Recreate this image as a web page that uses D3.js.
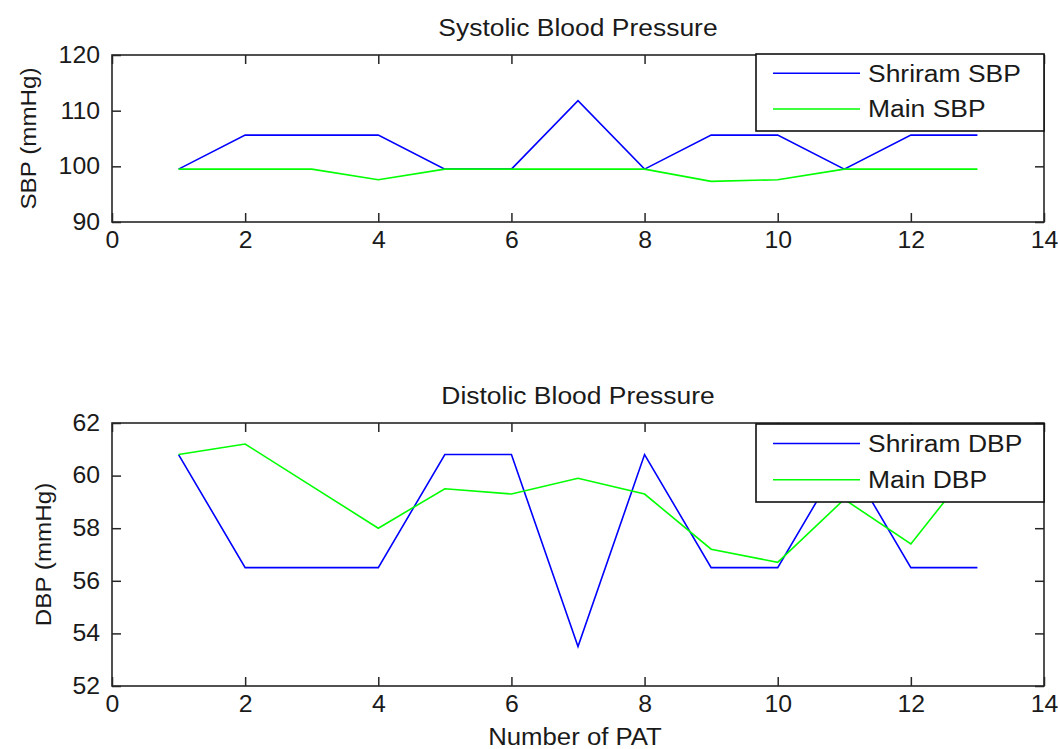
<!DOCTYPE html>
<html>
<head>
<meta charset="utf-8">
<script src="https://cdn.jsdelivr.net/npm/d3@7/dist/d3.min.js"></script>
<style>
  html, body { margin: 0; padding: 0; background: #fff; }
  svg { display: block; }
  text { font-family: "Liberation Sans", Arial, sans-serif; fill: #1a1a1a; }
</style>
</head>
<body>
<svg id="chart" width="1058" height="749"></svg>
<script>
// ---------- data ----------
const patNumbers = [1, 2, 3, 4, 5, 6, 7, 8, 9, 10, 11, 12, 13];
const shriramSBP = [99.5, 105.6, 105.6, 105.6, 99.5, 99.5, 111.8, 99.5, 105.6, 105.6, 99.5, 105.6, 105.6];
const mainSBP    = [99.5, 99.5, 99.5, 97.6, 99.5, 99.5, 99.5, 99.5, 97.3, 97.6, 99.5, 99.5, 99.5];
const shriramDBP = [60.8, 56.5, 56.5, 56.5, 60.8, 60.8, 53.5, 60.8, 56.5, 56.5, 60.8, 56.5, 56.5];
const mainDBP    = [60.8, 61.2, 59.6, 58.0, 59.5, 59.3, 59.9, 59.3, 57.2, 56.7, 59.1, 57.4, 60.6];
const xTicks   = [0, 2, 4, 6, 8, 10, 12, 14];
const sbpTicks = [90, 100, 110, 120];
const dbpTicks = [52, 54, 56, 58, 60, 62];
const seriesNamesTop = ["Shriram SBP", "Main SBP"];
const seriesNamesBottom = ["Shriram DBP", "Main DBP"];
const titles = ["Systolic Blood Pressure", "Distolic Blood Pressure"];
const yLabels = ["SBP (mmHg)", "DBP (mmHg)"];
const xLabel = "Number of PAT";
const colors = ["#0000ff", "#00ff00"];

// ---------- layout ----------
const svg = d3.select("#chart");
const left = 112, right = 1044;
const panels = [
  { top: 55, bottom: 222, domain: [90, 120], ticks: sbpTicks, series: [shriramSBP, mainSBP], names: seriesNamesTop,
    title: titles[0], ylab: yLabels[0], ylabX: 28, legend: { y0: 54, y1: 131 }, xlab: false },
  { top: 423, bottom: 686, domain: [52, 62], ticks: dbpTicks, series: [shriramDBP, mainDBP], names: seriesNamesBottom,
    title: titles[1], ylab: yLabels[1], ylabX: 43, legend: { y0: 424, y1: 502 }, xlab: true }
];

function stretch(sel, f) {
  sel.each(function () {
    const len = this.getComputedTextLength();
    if (len > 0) {
      this.setAttribute("textLength", (len * f).toFixed(1));
      this.setAttribute("lengthAdjust", "spacingAndGlyphs");
    }
  });
}

const axisColor = "#262626";

panels.forEach(p => {
  const x = d3.scaleLinear().domain([0, 14]).range([left, right]);
  const y = d3.scaleLinear().domain(p.domain).range([p.bottom, p.top]);
  const g = svg.append("g");

  const gb = g.append("g").attr("transform", `translate(0,${p.bottom})`)
    .call(d3.axisBottom(x).tickValues(xTicks).tickSizeInner(-9).tickSizeOuter(0).tickPadding(10).tickFormat(d3.format("d")));
  const gt = g.append("g").attr("transform", `translate(0,${p.top})`)
    .call(d3.axisTop(x).tickValues(xTicks).tickSizeInner(-9).tickSizeOuter(0).tickFormat(""));
  const gl = g.append("g").attr("transform", `translate(${left},0)`)
    .call(d3.axisLeft(y).tickValues(p.ticks).tickSizeInner(-9).tickSizeOuter(0).tickPadding(12).tickFormat(d3.format("d")));
  const gr = g.append("g").attr("transform", `translate(${right},0)`)
    .call(d3.axisRight(y).tickValues(p.ticks).tickSizeInner(-9).tickSizeOuter(0).tickFormat(""));

  [gb, gt, gl, gr].forEach(a => {
    a.select(".domain").remove();
    a.selectAll("line").attr("stroke", axisColor).attr("stroke-width", 1.5);
    a.selectAll("text").attr("font-size", 23).attr("fill", "#1a1a1a")
      .style("font-family", '"Liberation Sans", Arial, sans-serif');
  });
  stretch(gb.selectAll("text"), 1.08);
  stretch(gl.selectAll("text"), 1.08);

  const line = d3.line().x((d, i) => x(patNumbers[i])).y(d => y(d));
  p.series.forEach((s, k) => {
    g.append("path").datum(s).attr("d", line)
      .attr("fill", "none").attr("stroke", colors[k]).attr("stroke-width", 1.6)
      .attr("stroke-linejoin", "miter");
  });

  g.append("rect").attr("x", left).attr("y", p.top)
    .attr("width", right - left).attr("height", p.bottom - p.top)
    .attr("fill", "none").attr("stroke", axisColor).attr("stroke-width", 1.6);

  const t = g.append("text").attr("x", (left + right) / 2).attr("y", p.top - 27)
    .attr("text-anchor", "middle").attr("dy", "0.36em").attr("font-size", 23).text(p.title);
  stretch(t, 1.15);

  const yl = g.append("text")
    .attr("transform", `translate(${p.ylabX},${(p.top + p.bottom) / 2}) rotate(-90)`)
    .attr("text-anchor", "middle").attr("dy", "0.36em").attr("font-size", 22).text(p.ylab);
  stretch(yl, 1.1);

  if (p.xlab) {
    const xl = g.append("text").attr("x", (left + right) / 2 - 3).attr("y", 737)
      .attr("text-anchor", "middle").attr("dy", "0.36em").attr("font-size", 23).text(xLabel);
    stretch(xl, 1.12);
  }

  const lx0 = 756, lx1 = right;
  const lg = g.append("g");
  lg.append("rect").attr("x", lx0).attr("y", p.legend.y0)
    .attr("width", lx1 - lx0).attr("height", p.legend.y1 - p.legend.y0)
    .attr("fill", "#fff").attr("stroke", "#111").attr("stroke-width", 1.6);
  const rowH = (p.legend.y1 - p.legend.y0);
  p.names.forEach((name, k) => {
    const ly = p.legend.y0 + rowH * (k === 0 ? 0.25 : 0.715);
    lg.append("line").attr("x1", 773).attr("x2", 860).attr("y1", ly).attr("y2", ly)
      .attr("stroke", colors[k]).attr("stroke-width", 1.6);
    const lt = lg.append("text").attr("x", 868).attr("y", ly).attr("dy", "0.36em")
      .attr("font-size", 23).text(name);
    stretch(lt, 1.15);
  });
});
</script>
</body>
</html>
